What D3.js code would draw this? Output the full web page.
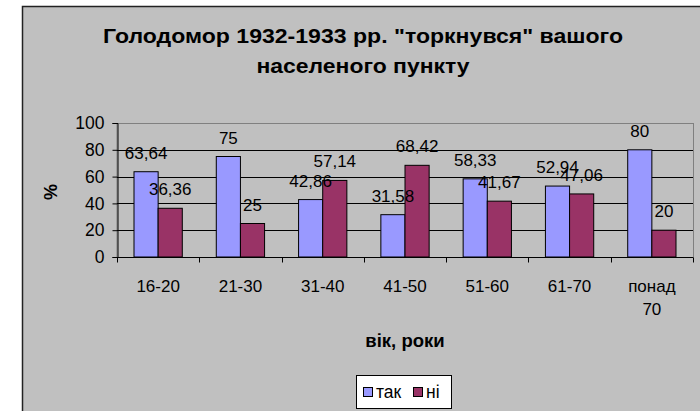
<!DOCTYPE html>
<html>
<head>
<meta charset="utf-8">
<script src="https://cdn.jsdelivr.net/npm/d3@7"></script>
<style>
html,body{margin:0;padding:0;background:#fff;}
svg{display:block;font-family:"Liberation Sans",Arial,sans-serif;}
</style>
</head>
<body>
<svg id="chart" width="700" height="411"></svg>
<script>
const categories = ["16-20","21-30","31-40","41-50","51-60","61-70","понад 70"];
const seriesNames = ["так","ні"];
const takValues = [63.64,75,42.86,31.58,58.33,52.94,80];
const niValues = [36.36,25,57.14,68.42,41.67,47.06,20];
const labelsTak = ["63,64","75","42,86","31,58","58,33","52,94","80"];
const labelsNi = ["36,36","25","57,14","68,42","41,67","47,06","20"];
const yTicks = [0,20,40,60,80,100];
const colors = ["#9999FF","#993366"];
const titleLines = ["Голодомор 1932-1933 рр. \"торкнувся\" вашого","населеного пункту"];

const svg = d3.select("#chart");
// chart area
svg.append("rect").attr("x",22.5).attr("y",6.5).attr("width",700).attr("height",420)
  .attr("fill","#C0C0C0").attr("stroke","#222").attr("stroke-width",1.5);

const L=117, R=693, T=123, B=257;
const x = d3.scaleBand().domain(categories).range([L,R]).paddingInner(0).paddingOuter(0);
const inner = d3.scaleBand().domain(seriesNames).range([17, x.bandwidth()-17]);
const y = d3.scaleLinear().domain([0,100]).range([B,T]);

// plot border
svg.append("rect").attr("x",L).attr("y",T+0.5).attr("width",R-L+0.5).attr("height",B-T)
  .attr("fill","none").attr("stroke","#808080").attr("stroke-width",1);

// gridlines
svg.append("g").selectAll("line").data(yTicks.filter(d=>d>0)).join("line")
  .attr("x1",L).attr("x2",R).attr("y1",d=>Math.round(y(d))+0.5).attr("y2",d=>Math.round(y(d))+0.5)
  .attr("stroke",(d)=>d===100?"#808080":"#000").attr("stroke-width",1);

// bars
const data = categories.map((c,i)=>({c, vals:[{s:"так",v:takValues[i],l:labelsTak[i]},{s:"ні",v:niValues[i],l:labelsNi[i]}]}));
const groups = svg.append("g").selectAll("g").data(data).join("g")
  .attr("transform",d=>`translate(${x(d.c)},0)`);
groups.selectAll("rect").data(d=>d.vals).join("rect")
  .attr("x",d=>inner(d.s)).attr("width",inner.bandwidth())
  .attr("y",d=>y(d.v)).attr("height",d=>B-y(d.v))
  .attr("fill",(d,i)=>colors[i]).attr("stroke","#000").attr("stroke-width",1);

// y axis
const yAxis = d3.axisLeft(y).tickValues(yTicks).tickSize(5).tickPadding(8);
const gy = svg.append("g").attr("transform",`translate(${L+0.5},0)`).call(yAxis);
gy.select(".domain").attr("stroke","#000");
gy.selectAll(".tick line").attr("stroke","#000");
gy.selectAll("text").attr("font-size",17.5).attr("fill","#000").attr("font-family","Liberation Sans, Arial, sans-serif");

// x axis
const gx = svg.append("g").attr("transform",`translate(0,${B+0.5})`);
gx.append("line").attr("x1",L).attr("x2",R).attr("stroke","#000");
gx.selectAll("line.tk").data(d3.range(categories.length+1)).join("line").attr("class","tk")
  .attr("x1",i=>Math.round(L+i*x.bandwidth())+0.5).attr("x2",i=>Math.round(L+i*x.bandwidth())+0.5)
  .attr("y1",0).attr("y2",5).attr("stroke","#000");
const xl = gx.selectAll("text").data(categories).join("text")
  .attr("x",d=>x(d)+x.bandwidth()/2).attr("y",34)
  .attr("text-anchor","middle").attr("font-size",17).attr("fill","#000");
xl.each(function(d){
  const parts = d.split(" ");
  const t = d3.select(this);
  parts.forEach((p,k)=>t.append("tspan").attr("x",x(d)+x.bandwidth()/2).attr("dy",k===0?0:23).text(p));
});

// data labels
groups.selectAll("text").data(d=>d.vals).join("text")
  .attr("x",d=>inner(d.s)+inner.bandwidth()/2).attr("y",d=>y(d.v)-13)
  .attr("text-anchor","middle").attr("font-size",17).attr("fill","#000").text(d=>d.l);

// title
const titleWidths = [520, 213];
svg.append("text").attr("text-anchor","middle").attr("font-size",21).attr("font-weight","bold")
  .selectAll("tspan").data(titleLines).join("tspan")
  .attr("x",363).attr("y",(d,i)=>43+i*30)
  .attr("textLength",(d,i)=>titleWidths[i]).attr("lengthAdjust","spacingAndGlyphs")
  .text(d=>d);

// axis titles
svg.append("text").attr("transform","translate(57,192) rotate(-90)").attr("text-anchor","middle")
  .attr("font-size",18).attr("font-weight","bold").text("%");
svg.append("text").attr("x",(L+R)/2).attr("y",347).attr("text-anchor","middle")
  .attr("font-size",18.5).attr("font-weight","bold").text("вік, роки");

// legend
const lg = svg.append("g");
lg.append("rect").attr("x",356.5).attr("y",375.5).attr("width",95).attr("height",33)
  .attr("fill","#fff").attr("stroke","#000");
const items = [{n:"так",c:colors[0],x:363},{n:"ні",c:colors[1],x:413}];
items.forEach(it=>{
  lg.append("rect").attr("x",it.x+0.5).attr("y",387.5).attr("width",9).attr("height",9)
    .attr("fill",it.c).attr("stroke","#000");
  lg.append("text").attr("x",it.x+13).attr("y",398).attr("font-size",17.5).text(it.n);
});
</script>
</body>
</html>
